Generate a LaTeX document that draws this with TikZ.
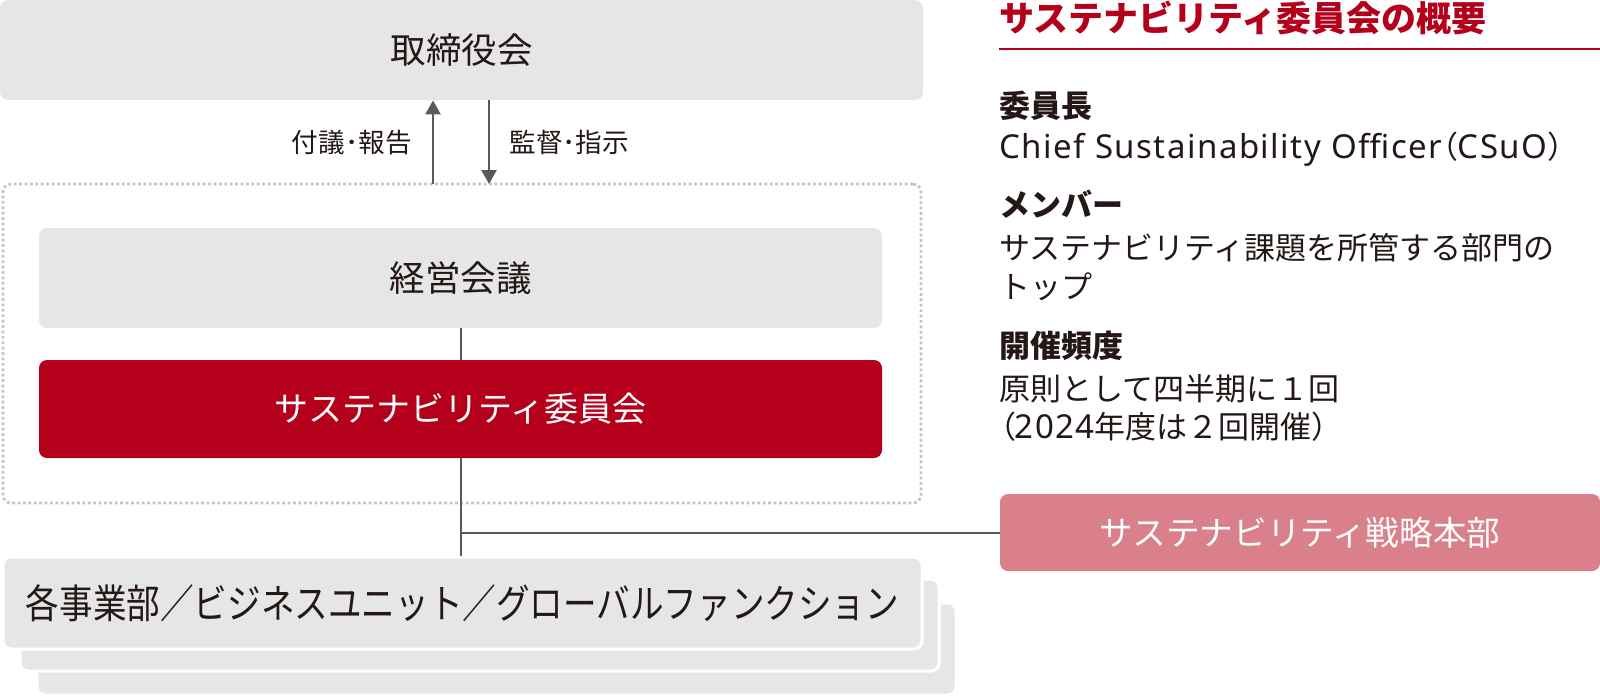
\documentclass[tikz,border=0pt]{standalone}
\usepackage{graphicx}
\usepackage{fontspec}
\setmainfont{Noto Sans CJK JP}
\newfontfamily\paltfont[RawFeature=+palt]{Noto Sans CJK JP}
\newfontfamily\latinfont[LetterSpace=4.5]{Noto Sans}
\newcommand\latword[1]{{\latinfont\fontsize{16.5pt}{18pt}\selectfont #1}}
\usetikzlibrary{arrows.meta}
\definecolor{boxgray}{HTML}{E6E6E6}
\definecolor{darkred}{HTML}{B4001B}
\definecolor{rosered}{HTML}{D9808A}
\definecolor{inkblack}{HTML}{231815}
\definecolor{linegray}{HTML}{595959}
\definecolor{dotgray}{HTML}{C4C4C4}
\tikzset{
  box/.style={rounded corners=4pt, inner sep=0pt, font=\fontsize{17pt}{20pt}\selectfont},
  graybox/.style={box, fill=boxgray, text=inkblack},
  redbox/.style={box, fill=darkred, text=white},
  pinkbox/.style={box, fill=rosered, text=white},
  stackbox/.style={graybox, draw=white, line width=1.5pt, minimum width=459.5pt, minimum height=46pt},
  link/.style={linegray, line width=1pt},
  arr/.style={linegray, line width=1.2pt, -{Triangle[width=7.5pt,length=7pt]}},
  flowlabel/.style={text=inkblack, inner sep=0pt, font=\fontsize{13.3pt}{16pt}\selectfont},
  headtext/.style={anchor=base west, inner sep=0pt, text=inkblack, font=\fontsize{15.5pt}{18pt}\selectfont\bfseries},
  bodytext/.style={anchor=base west, inner sep=0pt, text=inkblack, font=\fontsize{15.5pt}{18pt}\selectfont},
}

\begin{document}
\begin{tikzpicture}[x=0.5pt,y=-0.5pt]
  \useasboundingbox (0,0) rectangle (1600,698);

  % left: organisation
  \node[graybox, font=\fontsize{17.75pt}{20pt}\selectfont, minimum width=461.5pt, minimum height=50pt] (board) at (461.5,50) {取締役会};
  \node[draw=dotgray, line width=1.4pt, dash pattern=on 1.4pt off 1.3pt, rounded corners=4pt,
        minimum width=459pt, minimum height=159.5pt] (exec) at (462,343.5) {};
  \node[graybox, font=\fontsize{17.75pt}{20pt}\selectfont, minimum width=421.5pt, minimum height=50pt] (mgmt) at (460.5,278) {経営会議};
  \node[redbox, minimum width=421.5pt, minimum height=49pt] (red) at (460.5,409) {サステナビリティ委員会};

  \coordinate (upfoot) at (433,184);
  \coordinate (downfoot) at (489,184);
  \draw[arr] (upfoot) -- (upfoot |- board.south);
  \draw[arr] (downfoot |- board.south) -- (downfoot);
  \node[flowlabel, anchor=east] (report) at (412,142) {付議･報告};
  \node[flowlabel, anchor=west] (supervise) at (509,142) {監督･指示};

  \node[stackbox] (units3) at (496.5,649) {};
  \node[stackbox] (units2) at (479.5,625) {};
  \node[stackbox, font=\fontsize{20pt}{24pt}\selectfont] (units) at (462.5,603)
    {\resizebox{436.5pt}{\height}{各事業部／ビジネスユニット／グローバルファンクション}};

  \node[pinkbox, font=\fontsize{16.8pt}{20pt}\selectfont, minimum width=300pt, minimum height=38.5pt] (pink) at (1300,532.5) {サステナビリティ戦略本部};

  \draw[link] (mgmt.south) -- (red.north);
  \draw[link] (red.south) -- (red.south |- units.north);
  \draw[link] (pink.west) -- (pink.west -| red.south);

  % right: overview
  \node[anchor=base west, inner sep=0pt, text=darkred, font=\fontsize{17.5pt}{20pt}\selectfont\bfseries] (title) at (999,31) {サステナビリティ委員会の概要};
  \coordinate (ruleend) at (1600,49);
  \draw[darkred, line width=1pt] (ruleend -| title.west) -- (ruleend);

  \node[headtext] (chairhead) at (999,117) {委員長};
  \node[bodytext] (chair) at (999,158) {\latword{Chief Sustainability Officer}{\paltfont（}\latword{CSuO}）};
  \node[headtext] (memberhead) at (999,216) {メンバー};
  \node[bodytext] (member1) at (999,259) {サステナビリティ課題を所管する部門の};
  \node[bodytext] (member2) at (999,298) {トップ};
  \node[headtext] (freqhead) at (999,357) {開催頻度};
  \node[bodytext] (freq1) at (999,400) {原則として四半期に１回};
  \node[bodytext] (freq2) at (999,438) {{\paltfont（}\latword{2024}年度は２回開催）};
\end{tikzpicture}
\end{document}
